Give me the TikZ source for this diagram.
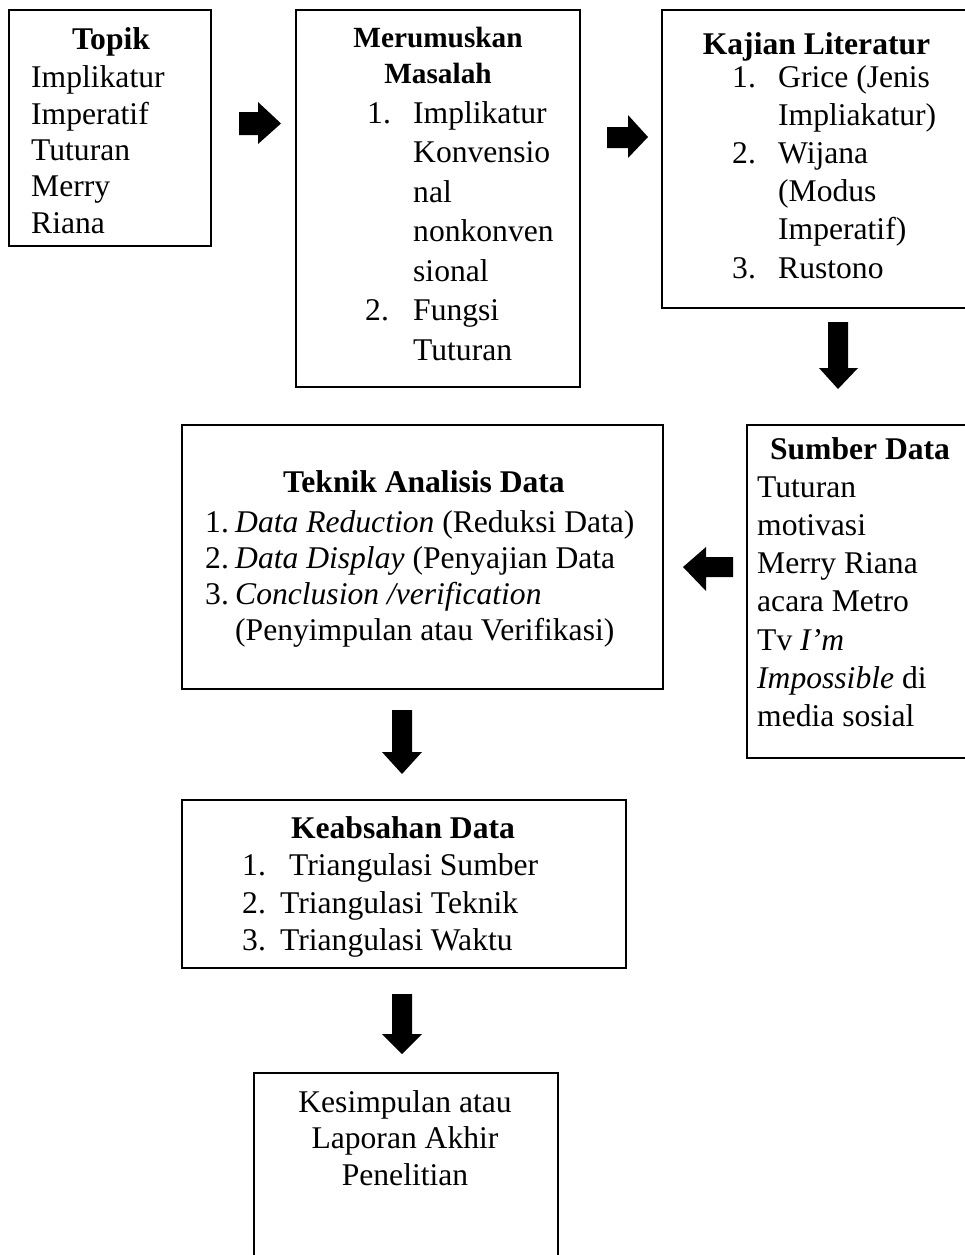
\documentclass[tikz,border=0pt]{standalone}
\usepackage{fontspec}
\setmainfont{Liberation Serif}
\newcommand\fsz{\fontsize{31.6}{37}\selectfont}
\newcommand\fszs{\fontsize{29.3}{35}\selectfont}
\newcommand\mkbox[5]{\node[boxnode, minimum width={#4-#2}, minimum height={#5-#3}] (#1) at ({(#2+#4)/2},{-(#3+#5)/2}) {};}
\begin{document}
\begin{tikzpicture}[x=1pt,y=1pt,
  boxnode/.style={draw, line width=1.9pt, rectangle, inner sep=0pt},
  txt/.style={inner sep=0pt, anchor=base west, font=\fsz},
  ctxt/.style={inner sep=0pt, anchor=base, font=\fsz},
  hd/.style={inner sep=0pt, anchor=base, font=\fsz\bfseries},
  hds/.style={inner sep=0pt, anchor=base, font=\fszs\bfseries},
  blk/.style={fill=black}]
\useasboundingbox (0,0) rectangle (965,-1255);
\clip (0,0) rectangle (965,-1255);
% boxes
\mkbox{topik}{9}{10}{211}{246}
\mkbox{rumus}{296}{10}{580}{387}
\mkbox{kajian}{662}{10}{985}{308}
\mkbox{sumber}{747}{425}{985}{758}
\mkbox{teknik}{182}{425}{663}{689}
\mkbox{keabsahan}{182}{800}{626}{968}
\mkbox{kesimpulan}{254}{1073}{558}{1275}
% Topik
\node[hd] (tp0) at (111,-50) {Topik};
\node[txt] (tp1) at (31,-88) {Implikatur};
\node[txt] (tp2) at (31,-124.3) {Imperatif};
\node[txt] (tp3) at (31,-160.5) {Tuturan};
\node[txt] (tp4) at (31,-196.8) {Merry};
\node[txt] (tp5) at (31,-233) {Riana};
% Merumuskan
\node[hds] (mr0) at (438,-48) {Merumuskan};
\node[hds] (mr00) at (438,-83) {Masalah};
\node[txt] (mrn1) at (367,-123) {1.};
\node[txt] (mr1) at (413,-123) {Implikatur};
\node[txt] (mr2) at (413,-162.5) {Konvensio};
\node[txt] (mr3) at (413,-202) {nal};
\node[txt] (mr4) at (413,-241.5) {nonkonven};
\node[txt] (mr5) at (413,-281) {sional};
\node[txt] (mrn2) at (365,-320.5) {2.};
\node[txt] (mr6) at (413,-320.5) {Fungsi};
\node[txt] (mr7) at (413,-360) {Tuturan};
% Kajian
\node[hd] (kj0) at (816.5,-55) {Kajian Literatur};
\node[txt] (kjn1) at (732,-87) {1.};
\node[txt] (kj1) at (778,-87) {Grice (Jenis};
\node[txt] (kj2) at (778,-125.2) {Impliakatur)};
\node[txt] (kjn2) at (732,-163.4) {2.};
\node[txt] (kj3) at (778,-163.4) {Wijana};
\node[txt] (kj4) at (778,-201.6) {(Modus};
\node[txt] (kj5) at (778,-239.8) {Imperatif)};
\node[txt] (kjn3) at (732,-278) {3.};
\node[txt] (kj6) at (778,-278) {Rustono};
% Sumber Data
\node[hd] (sd0) at (860,-459) {Sumber Data};
\node[txt] (sd1) at (757,-497) {Tuturan};
\node[txt] (sd2) at (757,-535.3) {motivasi};
\node[txt] (sd3) at (757,-573.6) {Merry Riana};
\node[txt] (sd4) at (757,-611.9) {acara Metro};
\node[txt] (sd5) at (757,-650.2) {Tv \textit{I’m}};
\node[txt] (sd6) at (757,-688.5) {\textit{Impossible} di};
\node[txt] (sd7) at (757,-726.8) {media sosial};
% Teknik Analisis Data
\node[hd] (ta0) at (424,-492) {Teknik Analisis Data};
\node[txt] (tan1) at (205,-532) {1.};
\node[txt] (ta1) at (235,-532) {\textit{Data Reduction} (Reduksi Data)};
\node[txt] (tan2) at (205,-568) {2.};
\node[txt] (ta2) at (235,-568) {\textit{Data Display} (Penyajian Data};
\node[txt] (tan3) at (205,-604) {3.};
\node[txt] (ta3) at (235,-604) {\textit{Conclusion /verification}};
\node[txt] (ta4) at (235,-640) {(Penyimpulan atau Verifikasi)};
% Keabsahan Data
\node[hd] (kb0) at (403,-838) {Keabsahan Data};
\node[txt] (kbn1) at (242,-875) {1.};
\node[txt] (kb1) at (289,-875) {Triangulasi Sumber};
\node[txt] (kbn2) at (242,-913) {2.};
\node[txt] (kb2) at (280,-913) {Triangulasi Teknik};
\node[txt] (kbn3) at (242,-950) {3.};
\node[txt] (kb3) at (280,-950) {Triangulasi Waktu};
% Kesimpulan
\node[ctxt] (ks1) at (405,-1112) {Kesimpulan atau};
\node[ctxt] (ks2) at (405,-1148) {Laporan Akhir};
\node[ctxt] (ks3) at (405,-1185) {Penelitian};
% block arrows
\fill[blk] (239,-112) -- (258,-112) -- (258,-102) -- (281,-123.5) -- (258,-144) -- (258,-135) -- (239,-135) -- cycle;
\fill[blk] (607,-127) -- (628,-127) -- (628,-115) -- (648,-137) -- (628,-158) -- (628,-148) -- (607,-148) -- cycle;
\fill[blk] (828,-322) -- (848,-322) -- (848,-368) -- (858,-368) -- (838,-389) -- (819,-368) -- (828,-368) -- cycle;
\fill[blk] (733,-557) -- (706,-557) -- (706,-547) -- (683,-567) -- (706,-591) -- (706,-577) -- (733,-577) -- cycle;
\fill[blk] (392,-710) -- (412,-710) -- (412,-752) -- (422,-752) -- (402,-774) -- (382,-752) -- (392,-752) -- cycle;
\fill[blk] (392,-994) -- (412,-994) -- (412,-1034) -- (422,-1034) -- (402,-1054) -- (382,-1034) -- (392,-1034) -- cycle;
\end{tikzpicture}
\end{document}
